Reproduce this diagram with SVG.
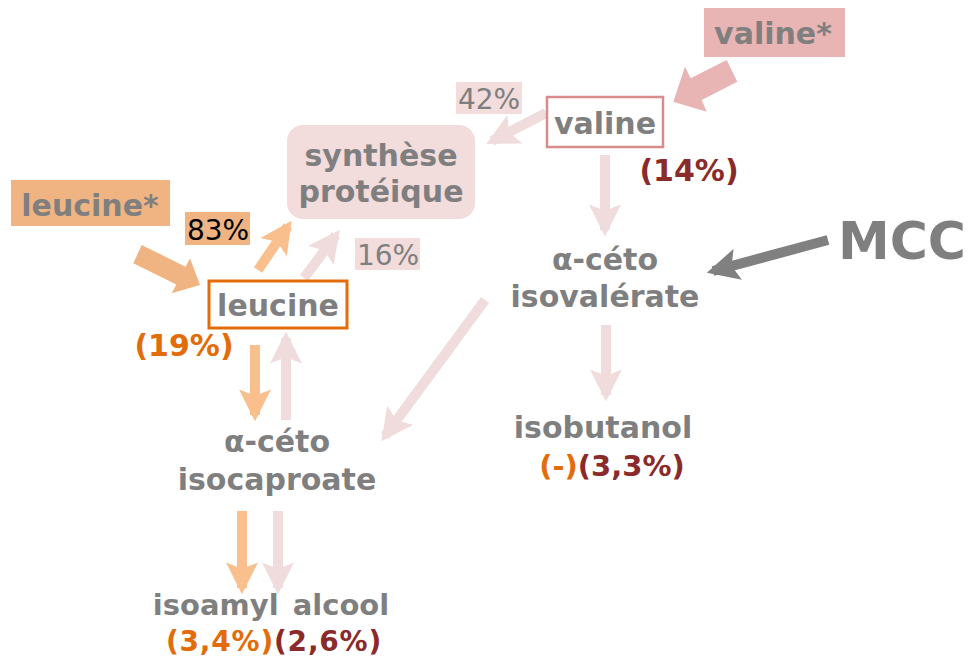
<svg xmlns="http://www.w3.org/2000/svg" width="970" height="658" viewBox="0 0 970 658">
<style>
.b{font-family:"DejaVu Sans","Verdana",sans-serif;font-weight:bold;fill:#7f7f7f;text-anchor:middle}
.n{font-family:"DejaVu Sans","Verdana",sans-serif;font-weight:normal;text-anchor:middle}
.or{fill:#e36c0a}
.dr{fill:#8b2a2a}
.pk{stroke:#f0dcdc;stroke-width:10;fill:none}
.og{stroke:#f9c08e;stroke-width:10;fill:none}
</style>
<defs>
<marker id="hp" viewBox="0 0 10 10" refX="8" refY="5" markerWidth="3.2" markerHeight="3.2" orient="auto" markerUnits="strokeWidth"><path d="M0,0 L10,5 L0,10 L2,5 Z" fill="#f0dcdc"/></marker>
<marker id="ho" viewBox="0 0 10 10" refX="8" refY="5" markerWidth="3.2" markerHeight="3.2" orient="auto" markerUnits="strokeWidth"><path d="M0,0 L10,5 L0,10 L2,5 Z" fill="#f9c08e"/></marker>
<marker id="hg" viewBox="0 0 10 10" refX="8" refY="5" markerWidth="3.2" markerHeight="3.2" orient="auto" markerUnits="strokeWidth"><path d="M0,0 L10,5 L0,10 L2,5 Z" fill="#808080"/></marker>
</defs>
<rect width="970" height="658" fill="#ffffff"/>

<g id="connectors">
<path d="M726.7,60 L737.3,81.7 L701.7,100 L706.7,111.7 L673.3,101.7 L685,66.7 L690.6,78.3 Z" fill="#e8b4b4"/>
<path d="M141.7,245 L185.6,266.7 L190,258.3 L200,285 L171.7,293.3 L176.3,284.6 L133.3,263.3 Z" fill="#f0b482"/>
<line class="pk" x1="546" y1="113" x2="492" y2="141" marker-end="url(#hp)"/>
<line class="og" x1="258" y1="270" x2="288" y2="226" marker-end="url(#ho)"/>
<line class="pk" x1="304" y1="278" x2="336" y2="235" marker-end="url(#hp)"/>
<line class="og" x1="255" y1="345" x2="255" y2="415" marker-end="url(#ho)"/>
<line class="pk" x1="286" y1="420" x2="286" y2="338" marker-end="url(#hp)"/>
<line class="pk" x1="605" y1="155" x2="605" y2="230" marker-end="url(#hp)"/>
<line stroke="#808080" stroke-width="10" x1="828" y1="240" x2="713" y2="271" marker-end="url(#hg)"/>
<line class="pk" x1="485" y1="300" x2="385" y2="436" marker-end="url(#hp)"/>
<line class="pk" x1="606" y1="325" x2="606" y2="395" marker-end="url(#hp)"/>
<line class="og" x1="242" y1="511" x2="242" y2="588" marker-end="url(#ho)"/>
<line class="pk" x1="278" y1="511" x2="278" y2="588" marker-end="url(#hp)"/>
</g>

<g id="valine-star">
<rect x="704" y="8" width="141" height="49" fill="#e8b4b4"/>
<text class="b" x="773" y="44" font-size="30">valine*</text>
</g>
<g id="valine">
<rect x="547" y="97" width="116" height="50" fill="#ffffff" stroke="#d88c8c" stroke-width="2.5"/>
<text class="b" x="605" y="134" font-size="30">valine</text>
<text class="b dr" x="689" y="181" font-size="30">(14%)</text>
</g>
<g id="label-42">
<rect x="456" y="82" width="66" height="32" fill="#f2dcdc"/>
<text class="n" x="489" y="109" font-size="28" fill="#7f7f7f">42%</text>
</g>
<g id="synthese">
<rect x="287" y="125" width="188" height="94" rx="16" fill="#f2dcdc"/>
<text class="b" x="381" y="166" font-size="30">synthèse</text>
<text class="b" x="381" y="202" font-size="30">protéique</text>
</g>
<g id="leucine-star">
<rect x="11" y="180" width="159" height="46" fill="#f0b482"/>
<text class="b" x="90" y="216" font-size="30">leucine*</text>
</g>
<g id="label-83">
<rect x="185" y="212" width="65" height="33" fill="#f0b482"/>
<text class="n" x="218" y="240" font-size="28" fill="#000000">83%</text>
</g>
<g id="label-16">
<rect x="355" y="238" width="65" height="32" fill="#f2dcdc"/>
<text class="n" x="388" y="265" font-size="28" fill="#7f7f7f">16%</text>
</g>
<g id="leucine">
<rect x="209" y="281" width="138" height="47" fill="#ffffff" stroke="#e36c0a" stroke-width="3"/>
<text class="b" x="278" y="316" font-size="30">leucine</text>
<text class="b or" x="184" y="356" font-size="30">(19%)</text>
</g>
<g id="ceto-isocaproate">
<text class="b" x="277" y="452" font-size="30">α-céto</text>
<text class="b" x="277" y="490" font-size="30">isocaproate</text>
</g>
<g id="ceto-isovalerate">
<text class="b" x="605" y="270" font-size="30">α-céto</text>
<text class="b" x="605" y="307" font-size="30">isovalérate</text>
</g>
<g id="mcc">
<text class="b" x="902" y="259" font-size="52">MCC</text>
</g>
<g id="isobutanol">
<text class="b" x="603" y="438" font-size="30">isobutanol</text>
<text class="b" x="612" y="476" font-size="29"><tspan class="or">(-)</tspan><tspan class="dr">(3,3%)</tspan></text>
</g>
<g id="isoamyl">
<text class="b" x="271" y="615" font-size="29" word-spacing="4">isoamyl alcool</text>
<text class="b" x="274" y="651" font-size="28" letter-spacing="0.8"><tspan class="or">(3,4%)</tspan><tspan class="dr">(2,6%)</tspan></text>
</g>
</svg>
